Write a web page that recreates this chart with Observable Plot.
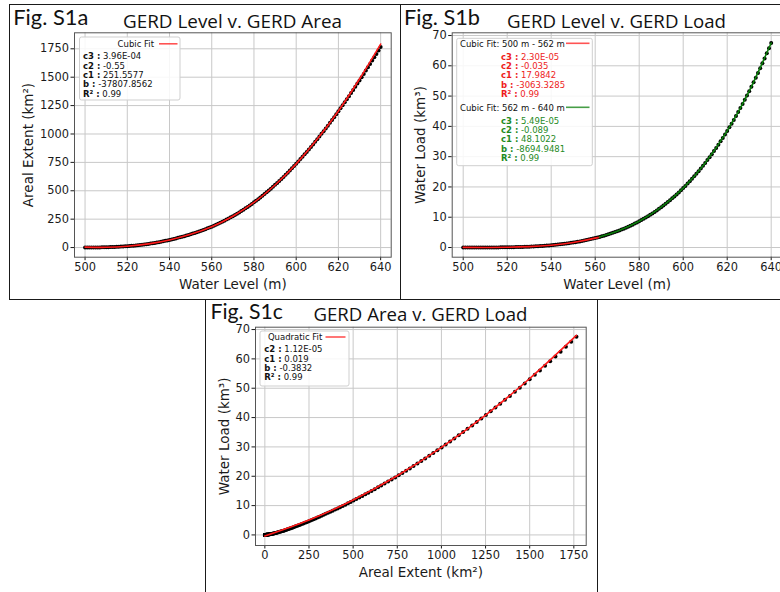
<!DOCTYPE html>
<html>
<head>
<meta charset="utf-8">
<script src="https://cdn.jsdelivr.net/npm/d3@7"></script>
<script src="https://cdn.jsdelivr.net/npm/@observablehq/plot@0.6"></script>
<style>
  html, body { margin: 0; padding: 0; background: #fff; }
  #page { position: relative; width: 780px; height: 592px; overflow: hidden; background: #fff; }
  #page svg { position: absolute; left: 0; top: 0; }
  .panel { position: absolute; border: 1.5px solid #1a1a1a; box-sizing: border-box; }
</style>
</head>
<body>
<div id="page"></div>
<script>
// Reservoir water level (m), one sample per metre
const levels = [
  500, 501, 502, 503, 504, 505, 506, 507, 508, 509, 510,
  511, 512, 513, 514, 515, 516, 517, 518, 519, 520,
  521, 522, 523, 524, 525, 526, 527, 528, 529, 530,
  531, 532, 533, 534, 535, 536, 537, 538, 539, 540,
  541, 542, 543, 544, 545, 546, 547, 548, 549, 550,
  551, 552, 553, 554, 555, 556, 557, 558, 559, 560,
  561, 562, 563, 564, 565, 566, 567, 568, 569, 570,
  571, 572, 573, 574, 575, 576, 577, 578, 579, 580,
  581, 582, 583, 584, 585, 586, 587, 588, 589, 590,
  591, 592, 593, 594, 595, 596, 597, 598, 599, 600,
  601, 602, 603, 604, 605, 606, 607, 608, 609, 610,
  611, 612, 613, 614, 615, 616, 617, 618, 619, 620,
  621, 622, 623, 624, 625, 626, 627, 628, 629, 630,
  631, 632, 633, 634, 635, 636, 637, 638, 639, 640
];

// Areal extent of the reservoir (km²) at each level
const area = [
  0, 0.1, 0.2, 0.4, 0.6, 0.9, 1.2, 1.5, 1.9, 2.4, 3.0,
  3.6, 4.3, 5.0, 5.8, 6.7, 7.6, 8.6, 9.7, 10.8, 12.0,
  13.4, 14.9, 16.6, 18.4, 20.3, 22.4, 24.6, 26.9, 29.4, 32.0,
  34.8, 37.8, 40.9, 44.2, 47.6, 51.2, 55.0, 58.9, 62.9, 67.0,
  71.3, 75.8, 80.4, 85.2, 90.1, 95.2, 100.5, 105.9, 111.4, 117,
  123, 129, 135, 141, 148, 155, 162, 169, 176, 184,
  192, 200, 209, 218, 227, 236, 246, 256, 266, 276,
  287, 298, 309, 321, 333, 345, 358, 371, 384, 398,
  412, 426, 441, 456, 471, 486, 502, 518, 535, 552,
  569, 586, 604, 622, 641, 659, 678, 698, 718, 738,
  758, 779, 800, 821, 842, 864, 886, 908, 931, 954,
  977, 1001, 1024, 1049, 1073, 1098, 1123, 1148, 1174, 1200,
  1226, 1252, 1279, 1306, 1333, 1360, 1388, 1416, 1444, 1472,
  1500, 1529, 1558, 1587, 1616, 1646, 1675, 1705, 1735, 1765
];

// Stored water volume (km³) at each level
const load = [
  0, 0, 0, 0, 0, 0, 0, 0, 0.01, 0.01, 0.01,
  0.01, 0.02, 0.02, 0.03, 0.03, 0.04, 0.05, 0.06, 0.07, 0.08,
  0.09, 0.11, 0.12, 0.14, 0.16, 0.18, 0.20, 0.23, 0.25, 0.28,
  0.32, 0.35, 0.39, 0.43, 0.48, 0.53, 0.58, 0.64, 0.70, 0.76,
  0.83, 0.90, 0.98, 1.06, 1.14, 1.24, 1.33, 1.43, 1.54, 1.65,
  1.77, 1.90, 2.02, 2.16, 2.30, 2.45, 2.61, 2.77, 2.94, 3.12,
  3.30, 3.50, 3.70, 3.91, 4.13, 4.35, 4.59, 4.84, 5.09, 5.36,
  5.64, 5.93, 6.22, 6.53, 6.86, 7.19, 7.54, 7.89, 8.27, 8.65,
  9.05, 9.46, 9.89, 10.33, 10.79, 11.26, 11.74, 12.24, 12.76, 13.30,
  13.85, 14.42, 15.00, 15.61, 16.23, 16.87, 17.52, 18.20, 18.90, 19.61,
  20.35, 21.11, 21.88, 22.68, 23.50, 24.34, 25.20, 26.08, 26.99, 27.91,
  28.86, 29.84, 30.83, 31.85, 32.90, 33.97, 35.06, 36.18, 37.32, 38.49,
  39.68, 40.90, 42.14, 43.42, 44.71, 46.04, 47.39, 48.77, 50.18, 51.61,
  53.07, 54.56, 56.08, 57.63, 59.21, 60.81, 62.45, 64.11, 65.80, 67.52
];

// Fitted curves
const fitLevelA = [500, 510, 520, 530, 540, 550, 560, 570, 580, 590, 600, 610, 620, 630, 640];
const fitAreaA  = [4, 2, 11, 32, 67, 117, 184, 276, 397, 551, 737, 955, 1203, 1484, 1792];

const fitLevelLow = [500, 510, 520, 530, 540, 550, 560, 562];
const fitLoadLow  = [0.05, 0.02, 0.07, 0.28, 0.76, 1.65, 3.10, 3.50];
const fitLevelHigh = [562, 570, 580, 590, 600, 610, 620, 630, 640];
const fitLoadHigh  = [3.50, 5.36, 8.65, 13.30, 19.61, 27.91, 38.49, 51.61, 67.52];

const fitAreaC = [0, 250, 500, 750, 1000, 1250, 1500, 1765];
const fitLoadC = [-0.38, 5.07, 11.92, 20.17, 29.82, 40.87, 53.32, 68.05];

// Tick values
const levelTicks = [500, 520, 540, 560, 580, 600, 620, 640];
const areaTicks = [0, 250, 500, 750, 1000, 1250, 1500, 1750];
const loadTicks = [0, 10, 20, 30, 40, 50, 60, 70];

// Legend contents
const legendA = { title: "Cubic Fit", rows: [["c3", "3.96E-04"], ["c2", "-0.55"], ["c1", "251.5577"], ["b", "-37807.8562"], ["R²", "0.99"]] };
const legendLow = { title: "Cubic Fit: 500 m - 562 m", rows: [["c3", "2.30E-05"], ["c2", "-0.035"], ["c1", "17.9842"], ["b", "-3063.3285"], ["R²", "0.99"]] };
const legendHigh = { title: "Cubic Fit: 562 m - 640 m", rows: [["c3", "5.49E-05"], ["c2", "-0.089"], ["c1", "48.1022"], ["b", "-8694.9481"], ["R²", "0.99"]] };
const legendC = { title: "Quadratic Fit", rows: [["c2", "1.12E-05"], ["c1", "0.019"], ["b", "-0.3832"], ["R²", "0.99"]] };

const samples = levels.map((h, i) => ({ level: h, area: area[i], load: load[i] }));
const fitA = fitLevelA.map((h, i) => ({ level: h, area: fitAreaA[i] }));
const fitLow = fitLevelLow.map((h, i) => ({ level: h, load: fitLoadLow[i] }));
const fitHigh = fitLevelHigh.map((h, i) => ({ level: h, load: fitLoadHigh[i] }));
const fitC = fitAreaC.map((a, i) => ({ area: a, load: fitLoadC[i] }));

const W = 780, H = 592;
const page = document.getElementById("page");
const FIT_RED = "#ff1a1a";
const FIT_GREEN = "#0a7d0a";

// Panel outlines
function panelBox(left, top, width, height) {
  const div = document.createElement("div");
  div.className = "panel";
  Object.assign(div.style, { left: left + "px", top: top + "px", width: width + "px", height: height + "px" });
  page.appendChild(div);
}
panelBox(8.5, 3.5, 392.5, 296.5);
panelBox(399.5, 3.5, 400, 296.5);
panelBox(204.5, 298.5, 393.5, 310);

// One scatter panel; frame is given in page pixels
function scatterPanel({ frame, xDomain, yDomain, xTicks, yTicks, xLabel, yLabel, yLabelDx, xLabelDy, marks }) {
  return Plot.plot({
    width: W, height: H,
    marginLeft: frame.left, marginTop: frame.top,
    marginRight: W - frame.right, marginBottom: H - frame.bottom,
    x: { domain: xDomain },
    y: { domain: yDomain },
    style: { background: "transparent", fontFamily: "DejaVu Sans", fontSize: "11.4px", color: "#1a1a1a", overflow: "visible", maxWidth: "none" },
    marks: [
      Plot.gridX(xTicks, { stroke: "#c8c8c8", strokeOpacity: 1, strokeWidth: 1 }),
      Plot.gridY(yTicks, { stroke: "#c8c8c8", strokeOpacity: 1, strokeWidth: 1 }),
      Plot.axisX(xTicks, { tickSize: 3.5, tickPadding: 2, tickFormat: d => String(d), label: null }),
      Plot.axisY(yTicks, { tickSize: 3.5, tickPadding: 2, tickFormat: d => String(d), label: null }),
      ...marks,
      Plot.frame({ stroke: "#555", strokeWidth: 1 }),
      Plot.text([xLabel], { text: d => d, frameAnchor: "bottom", textAnchor: "middle", lineAnchor: "middle", dy: xLabelDy, fontSize: 13.5, fill: "#1a1a1a" }),
      Plot.text([yLabel], { text: d => d, frameAnchor: "left", textAnchor: "middle", lineAnchor: "middle", dx: yLabelDx, rotate: -90, fontSize: 13.5, fill: "#1a1a1a" })
    ]
  });
}

// Annotation helpers (panel labels, titles, legends)
function heading(svg, txt, x, y, size, width, family) {
  d3.select(svg).append("text")
    .attr("x", x).attr("y", y)
    .attr("text-anchor", "start")
    .attr("font-family", family).attr("font-size", size)
    .attr("fill", "#111")
    .attr("textLength", width).attr("lengthAdjust", "spacingAndGlyphs")
    .text(txt);
}

function legendFrame(svg, x, y, w, h) {
  d3.select(svg).append("rect")
    .attr("x", x).attr("y", y).attr("width", w).attr("height", h)
    .attr("rx", 2).attr("fill", "#fff").attr("fill-opacity", 0.85)
    .attr("stroke", "#cfcfcf").attr("stroke-width", 1);
}

function legendEntry(svg, { title, titleX, titleAnchor, baseline, swatchX1, swatchX2, swatchY, color }) {
  const g = d3.select(svg).append("g").attr("font-family", "DejaVu Sans").attr("font-size", 8.5);
  g.append("text").attr("x", titleX).attr("y", baseline).attr("text-anchor", titleAnchor).attr("fill", "#111").text(title);
  g.append("line").attr("x1", swatchX1).attr("x2", swatchX2).attr("y1", swatchY).attr("y2", swatchY)
    .attr("stroke", color).attr("stroke-opacity", 0.75).attr("stroke-width", 1.6);
}

function legendRows(svg, rows, x, y0, step, color) {
  const g = d3.select(svg).append("g")
    .attr("font-family", "DejaVu Sans").attr("font-size", 8.5)
    .attr("text-anchor", "start").attr("fill", color);
  rows.forEach(([name, value], i) => {
    const t = g.append("text").attr("x", x).attr("y", y0 + i * step);
    t.append("tspan").attr("font-weight", "bold").text(name + " :");
    t.append("tspan").text(" " + value);
  });
}

// Fig. S1a — level vs area
const svgA = scatterPanel({
  frame: { left: 74, top: 32.3, right: 390.7, bottom: 256.7 },
  xDomain: [495, 645], yDomain: [-85, 1891],
  xTicks: levelTicks, yTicks: areaTicks,
  xLabel: "Water Level (m)", yLabel: "Areal Extent (km²)", yLabelDx: -45.5, xLabelDy: 27,
  marks: [
    Plot.dot(samples, { x: "level", y: "area", r: 2, fill: "#000", stroke: "none" }),
    Plot.line(fitA, { x: "level", y: "area", stroke: FIT_RED, strokeWidth: 1.6, curve: "natural" })
  ]
});
page.appendChild(svgA);
heading(svgA, "Fig. S1a", 13.3, 24.5, 22, 75, "Lato");
heading(svgA, "GERD Level v. GERD Area", 123, 27.5, 18, 219, "Open Sans");
legendFrame(svgA, 79.5, 37, 100.5, 63);
legendEntry(svgA, { title: legendA.title, titleX: 154, titleAnchor: "end", baseline: 47.2, swatchX1: 159, swatchX2: 177.5, swatchY: 43.8, color: FIT_RED });
legendRows(svgA, legendA.rows, 83, 59.3, 9.35, "#111");

// Fig. S1b — level vs load, two cubic segments
const svgB = scatterPanel({
  frame: { left: 451.7, top: 32.3, right: 781.7, bottom: 256.7 },
  xDomain: [495, 645], yDomain: [-3.2, 70.9],
  xTicks: levelTicks, yTicks: loadTicks,
  xLabel: "Water Level (m)", yLabel: "Water Load (km³)", yLabelDx: -31.5, xLabelDy: 27,
  marks: [
    Plot.dot(samples, { x: "level", y: "load", r: 2, fill: "#000", stroke: "none" }),
    Plot.line(fitLow, { x: "level", y: "load", stroke: FIT_RED, strokeWidth: 1.6, curve: "natural" }),
    Plot.line(fitHigh, { x: "level", y: "load", stroke: FIT_GREEN, strokeWidth: 1.6, curve: "natural" })
  ]
});
page.appendChild(svgB);
heading(svgB, "Fig. S1b", 404, 24.5, 22, 76, "Lato");
heading(svgB, "GERD Level v. GERD Load", 507, 27.5, 18, 219, "Open Sans");
legendFrame(svgB, 456.7, 38.3, 135.6, 127.4);
legendEntry(svgB, { title: legendLow.title, titleX: 460, titleAnchor: "start", baseline: 46.5, swatchX1: 566, swatchX2: 589.5, swatchY: 43.3, color: FIT_RED });
legendRows(svgB, legendLow.rows, 501, 59.8, 9.3, "#ee1c1c");
legendEntry(svgB, { title: legendHigh.title, titleX: 460, titleAnchor: "start", baseline: 110.5, swatchX1: 566, swatchX2: 589.5, swatchY: 107.3, color: FIT_GREEN });
legendRows(svgB, legendHigh.rows, 501, 123.8, 9.3, "#1e8a1e");

// Fig. S1c — area vs load
const svgC = scatterPanel({
  frame: { left: 255, top: 326.7, right: 585.7, bottom: 545 },
  xDomain: [-53, 1820], yDomain: [-3.6, 70.8],
  xTicks: areaTicks, yTicks: loadTicks,
  xLabel: "Areal Extent (km²)", yLabel: "Water Load (km³)", yLabelDx: -30.5, xLabelDy: 27.5,
  marks: [
    Plot.dot(samples, { x: "area", y: "load", r: 2, fill: "#000", stroke: "none" }),
    Plot.line(fitC, { x: "area", y: "load", stroke: FIT_RED, strokeWidth: 1.6, curve: "natural" })
  ]
});
page.appendChild(svgC);
heading(svgC, "Fig. S1c", 210.5, 318.5, 21, 72.5, "Lato");
heading(svgC, "GERD Area v. GERD Load", 313.5, 321, 18, 214, "Open Sans");
legendFrame(svgC, 260, 331, 89, 55);
legendEntry(svgC, { title: legendC.title, titleX: 322.3, titleAnchor: "end", baseline: 340.3, swatchX1: 325.5, swatchX2: 345.5, swatchY: 337, color: FIT_RED });
legendRows(svgC, legendC.rows, 264.3, 352.3, 9.35, "#111");
</script>
</body>
</html>
